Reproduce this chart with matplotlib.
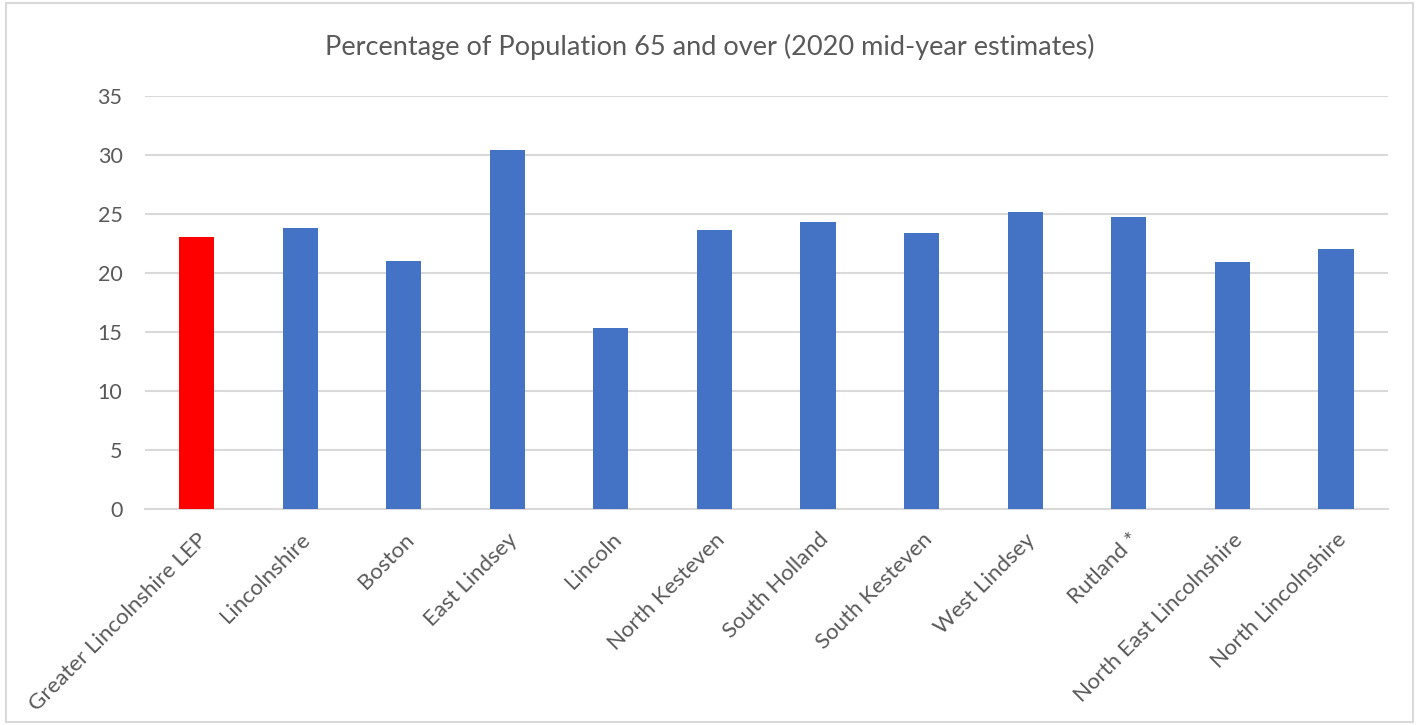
import matplotlib
matplotlib.use("Agg")
import matplotlib.pyplot as plt
from matplotlib.patches import Rectangle

categories = ["Greater Lincolnshire LEP", "Lincolnshire", "Boston", "East Lindsey",
              "Lincoln", "North Kesteven", "South Holland", "South Kesteven",
              "West Lindsey", "Rutland *", "North East Lincolnshire", "North Lincolnshire"]
values = [23.05, 23.8, 21.0, 30.4, 15.3, 23.6, 24.3, 23.4, 25.2, 24.7, 20.9, 22.0]
yticks = [0, 5, 10, 15, 20, 25, 30, 35]
title = "Percentage of Population 65 and over (2020 mid-year estimates)"

BLUE = "#4472C4"
RED = "#FF0000"
TEXT = "#595959"
GRID = "#D9D9D9"

plt.rcParams['font.family'] = ['Lato', 'DejaVu Sans']

fig = plt.figure(figsize=(14.19, 7.25), dpi=100)
ax = fig.add_axes([0.102, 0.2983, 0.876, 0.5693])

colors = [RED] + [BLUE] * (len(categories) - 1)
x = list(range(len(categories)))
ax.bar(x, values, width=0.34, color=colors, zorder=3)

ax.set_xlim(-0.5, len(categories) - 0.5)
ax.set_ylim(0, 35)
ax.set_yticks(yticks)
ax.set_yticklabels([str(t) for t in yticks], fontsize=15.5, color=TEXT)
ax.yaxis.grid(True, color=GRID, linewidth=1.5, zorder=0)
ax.set_axisbelow(True)
for s in ["top", "right", "left"]:
    ax.spines[s].set_visible(False)
ax.spines["bottom"].set_color(GRID)
ax.spines["bottom"].set_linewidth(1.5)
ax.tick_params(axis="y", length=0, pad=16)
ax.tick_params(axis="x", length=0, pad=15)

ax.set_xticks(x)
ax.set_xticklabels(categories, rotation=45, ha="right", va="top",
                   rotation_mode="anchor", fontsize=16, color=TEXT)

fig.text(0.5, 0.935, title, ha="center", va="center", fontsize=19.5, color=TEXT)

fig.patches.append(Rectangle((0.004, 0.004), 0.992, 0.992, transform=fig.transFigure,
                             fill=False, edgecolor=GRID, linewidth=1.5))

fig.savefig("out.png", dpi=100)
